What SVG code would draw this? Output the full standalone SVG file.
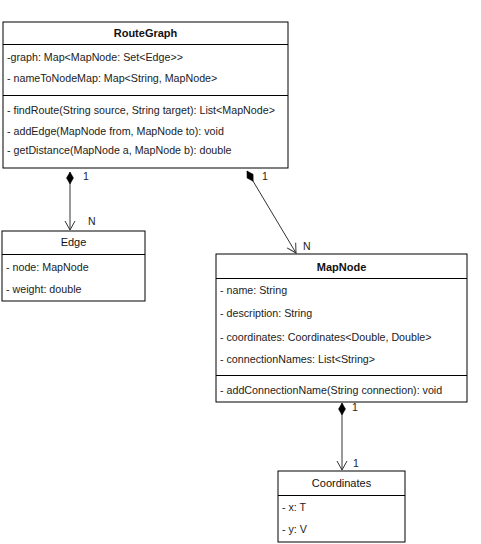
<svg xmlns="http://www.w3.org/2000/svg" width="481" height="544" viewBox="0 0 481 544">
<style>
.box{fill:#fff;stroke:#000;stroke-width:1}
.sep{stroke:#000;stroke-width:1}
.t{font-family:"Liberation Sans",Arial,sans-serif;font-size:10.7px;fill:#222}
.h{font-family:"Liberation Sans",Arial,sans-serif;font-size:11px;fill:#111;text-anchor:middle}
.b{font-weight:bold}
.c{stroke:#333;stroke-width:1;fill:none}
.lbl{font-family:"Liberation Sans",Arial,sans-serif;font-size:10.5px;fill:#222}
</style>
<defs>
<marker id="open" markerWidth="12" markerHeight="12" refX="10" refY="6" orient="auto" markerUnits="userSpaceOnUse">
<path d="M1,1 L10,6 L1,11" fill="none" stroke="#333" stroke-width="1"/>
</marker>
<marker id="dia" markerWidth="14" markerHeight="10" refX="1" refY="5" orient="auto" markerUnits="userSpaceOnUse">
<path d="M1,5 L7,1.5 L13,5 L7,8.5 Z" fill="#000" stroke="#000" stroke-width="0.5"/>
</marker>
</defs>
<rect width="481" height="544" fill="#fff"/>
<g id="connectors">
<line class="c" x1="70" y1="172" x2="70" y2="230" marker-start="url(#dia)" marker-end="url(#open)"/>
<line class="c" x1="247" y1="171" x2="296" y2="253" marker-start="url(#dia)" marker-end="url(#open)"/>
<line class="c" x1="342" y1="403" x2="342" y2="470" marker-start="url(#dia)" marker-end="url(#open)"/>
<text class="lbl" x="83" y="180">1</text>
<text class="lbl" x="88" y="225">N</text>
<text class="lbl" x="262" y="180">1</text>
<text class="lbl" x="303" y="250">N</text>
<text class="lbl" x="352" y="411">1</text>
<text class="lbl" x="353" y="467">1</text>
</g>
<g id="RouteGraph">
<rect class="box" x="3" y="22" width="285" height="146"/>
<line class="sep" x1="3" y1="44.5" x2="288" y2="44.5"/>
<line class="sep" x1="3" y1="95.5" x2="288" y2="95.5"/>
<text class="h b" x="145.5" y="37">RouteGraph</text>
<text class="t" x="7" y="61">-graph: Map&lt;MapNode: Set&lt;Edge&gt;&gt;</text>
<text class="t" x="7" y="82">- nameToNodeMap: Map&lt;String, MapNode&gt;</text>
<text class="t" x="7" y="114">- findRoute(String source, String target): List&lt;MapNode&gt;</text>
<text class="t" x="7" y="135">- addEdge(MapNode from, MapNode to): void</text>
<text class="t" x="7" y="154">- getDistance(MapNode a, MapNode b): double</text>
</g>
<g id="Edge">
<rect class="box" x="2" y="231" width="143" height="70"/>
<line class="sep" x1="2" y1="254.5" x2="145" y2="254.5"/>
<text class="h" x="73.5" y="246">Edge</text>
<text class="t" x="6" y="271">- node: MapNode</text>
<text class="t" x="6" y="293">- weight: double</text>
</g>
<g id="MapNode">
<rect class="box" x="216" y="254" width="251" height="148"/>
<line class="sep" x1="216" y1="278.5" x2="467" y2="278.5"/>
<line class="sep" x1="216" y1="375.5" x2="467" y2="375.5"/>
<text class="h b" x="341.5" y="271">MapNode</text>
<text class="t" x="220" y="294">- name: String</text>
<text class="t" x="220" y="317">- description: String</text>
<text class="t" x="220" y="341">- coordinates: Coordinates&lt;Double, Double&gt;</text>
<text class="t" x="220" y="363">- connectionNames: List&lt;String&gt;</text>
<text class="t" x="220" y="394">- addConnectionName(String connection): void</text>
</g>
<g id="Coordinates">
<rect class="box" x="278" y="471" width="127" height="71"/>
<line class="sep" x1="278" y1="495.5" x2="405" y2="495.5"/>
<text class="h" x="341.5" y="487">Coordinates</text>
<text class="t" x="282" y="511">- x: T</text>
<text class="t" x="282" y="533">- y: V</text>
</g>
</svg>
